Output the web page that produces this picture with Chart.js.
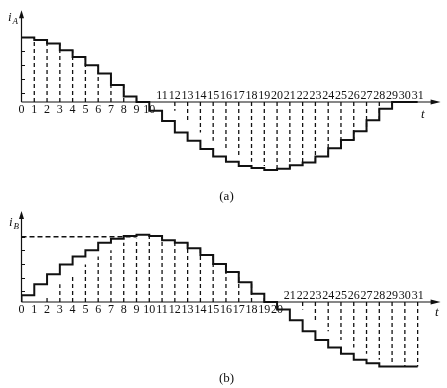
<!DOCTYPE html>
<html>
<head>
<meta charset="utf-8">
<script src="https://cdn.jsdelivr.net/npm/chart.js@4.4.0/dist/chart.umd.min.js"></script>
<style>
  body { margin: 0; background: #fff; }
  canvas { display: block; }
</style>
</head>
<body>
<canvas id="chartA" width="447" height="205"></canvas>
<canvas id="chartB" width="447" height="183"></canvas>

<script>
    // step level on each interval [k, k+1], k = 0..30
    const stepsA = [0.96, 0.95, 0.91, 0.86, 0.76, 0.66, 0.54, 0.42, 0.25, 0.08,
        0, -0.13, -0.28, -0.45, -0.57, -0.69, -0.80, -0.88, -0.94, -0.97,
        -1.00, -0.98, -0.93, -0.89, -0.80, -0.68, -0.56, -0.43, -0.27, -0.10, 0];
    const stepsB = [0, 0.10, 0.26, 0.41, 0.55, 0.67, 0.76, 0.87, 0.93, 0.97,
        0.99, 0.97, 0.91, 0.87, 0.79, 0.69, 0.56, 0.44, 0.29, 0.12,
        0, -0.11, -0.27, -0.43, -0.56, -0.67, -0.76, -0.85, -0.90, -0.95, -0.95];

    const tickLabels = ['0', '1', '2', '3', '4', '5', '6', '7', '8', '9', '10',
        '11', '12', '13', '14', '15', '16', '17', '18', '19', '20',
        '21', '22', '23', '24', '25', '26', '27', '28', '29', '30', '31'];
    // labels from this index on sit above the t axis
    const aboveFromA = 11;
    const aboveFromB = 21;

    const yTicksA = [0.96, 0.75, 0.54, 0.34, 0.13];
    const yTicksB = [0.96, 0.76, 0.56, 0.36, 0.16];
    const amplitudeB = [0.96, 0.96];
    const amplitudeSpanB = [0, 9];

    const ink = '#111';
    const serif = '"Liberation Serif", "Times New Roman", "DejaVu Serif", serif';

    function stepPoints(steps) {
        const pts = steps.map((v, k) => ({ x: k, y: v }));
        pts.push({ x: steps.length, y: steps[steps.length - 1] });
        return pts;
    }

    // dashed drop lines where both neighbouring steps are on the same side
    function dropPoints(steps) {
        const pts = [];
        for (let k = 1; k <= steps.length; k++) {
            const l = steps[k - 1];
            const r = k < steps.length ? steps[k] : l;
            if (l === 0 || r === 0 || Math.sign(l) !== Math.sign(r)) continue;
            const h = Math.sign(l) * Math.min(Math.abs(l), Math.abs(r));
            pts.push({ x: k, y: 0 }, { x: k, y: h }, { x: k, y: null });
        }
        return pts;
    }

    const schematic = {
        id: 'schematic',
        afterDraw(chart, args, opts) {
            const ctx = chart.ctx;
            const xs = chart.scales.x, ys = chart.scales.y;
            const x0 = xs.getPixelForValue(0), y0 = ys.getPixelForValue(0);
            const top = chart.chartArea.top;
            const tipX = xs.getPixelForValue(opts.arrowAt);
            ctx.save();
            ctx.strokeStyle = ink;
            ctx.fillStyle = ink;
            ctx.lineWidth = 1.2;

            // axes
            ctx.beginPath();
            ctx.moveTo(x0, y0);
            ctx.lineTo(x0, top + 6);
            ctx.moveTo(x0, y0);
            ctx.lineTo(tipX - 8, y0);
            ctx.stroke();

            // arrow heads
            ctx.beginPath();
            ctx.moveTo(x0, top);
            ctx.lineTo(x0 - 2.5, top + 8);
            ctx.lineTo(x0 + 2.5, top + 8);
            ctx.closePath();
            ctx.fill();
            ctx.beginPath();
            ctx.moveTo(tipX, y0);
            ctx.lineTo(tipX - 10, y0 - 2.5);
            ctx.lineTo(tipX - 10, y0 + 2.5);
            ctx.closePath();
            ctx.fill();

            // small ticks on the vertical axis
            ctx.lineWidth = 1;
            opts.yTicks.forEach(v => {
                const py = Math.round(ys.getPixelForValue(v)) + 0.5;
                ctx.beginPath();
                ctx.moveTo(x0, py);
                ctx.lineTo(x0 + 3.5, py);
                ctx.stroke();
            });

            // step numbers
            ctx.font = '12px ' + serif;
            ctx.textAlign = 'center';
            ctx.textBaseline = 'alphabetic';
            tickLabels.forEach((s, k) => {
                const px = xs.getPixelForValue(k);
                ctx.fillText(s, px, k < opts.aboveFrom ? y0 + 11 : y0 - 3);
            });

            // t
            ctx.font = 'italic 13px ' + serif;
            ctx.textBaseline = 'middle';
            ctx.fillText('t', xs.getPixelForValue(opts.tAt), y0 + opts.tDy);

            // i with subscript
            ctx.textAlign = 'left';
            ctx.textBaseline = 'alphabetic';
            ctx.font = 'italic 13px ' + serif;
            ctx.fillText('i', opts.iPos[0], opts.iPos[1]);
            ctx.font = 'italic 9px ' + serif;
            ctx.fillText(opts.sub, opts.iPos[0] + 4.5, opts.iPos[1] + 2.5);

            // caption
            ctx.textAlign = 'center';
            ctx.font = '13px ' + serif;
            ctx.fillText(opts.caption, chart.width / 2 + 3, opts.captionY);
            ctx.restore();
        }
    };

    function makeChart(id, steps, extra, padding, yMax, opts) {
        const datasets = [
            {
                data: stepPoints(steps),
                stepped: 'after',
                borderColor: ink,
                borderWidth: 2,
                pointRadius: 0,
                fill: false
            },
            {
                data: dropPoints(steps),
                borderColor: ink,
                borderWidth: 1.3,
                borderDash: [4, 3],
                pointRadius: 0,
                spanGaps: false,
                fill: false
            }
        ].concat(extra);

        return new Chart(document.getElementById(id), {
            type: 'line',
            data: { datasets: datasets },
            options: {
                responsive: false,
                animation: false,
                devicePixelRatio: 1,
                layout: { padding: padding },
                scales: {
                    x: { type: 'linear', min: 0, max: 33, display: false },
                    y: { min: -1.2, max: yMax, display: false }
                },
                plugins: {
                    legend: { display: false },
                    tooltip: { enabled: false },
                    schematic: opts
                }
            },
            plugins: [schematic]
        });
    }

    makeChart('chartA', stepsA, [],
        { left: 21.5, right: 3.8, top: 10.2, bottom: 21.4 }, 1.35,
        { yTicks: yTicksA, aboveFrom: aboveFromA, arrowAt: 32.8, tAt: 31.4, tDy: 13,
          sub: 'A', iPos: [8, 21], caption: '(a)', captionY: 200 });

    makeChart('chartB', stepsB, [{
            data: amplitudeSpanB.map((x, k) => ({ x: x, y: amplitudeB[k] })),
            borderColor: ink,
            borderWidth: 1.3,
            borderDash: [5, 3],
            pointRadius: 0,
            fill: false
        }],
        { left: 21.5, right: 3.8, top: 5.9, bottom: 4.4 }, 1.34,
        { yTicks: yTicksB, aboveFrom: aboveFromB, arrowAt: 32.8, tAt: 32.5, tDy: 11,
          sub: 'B', iPos: [9, 21], caption: '(b)', captionY: 177 });
</script>
</body>
</html>
